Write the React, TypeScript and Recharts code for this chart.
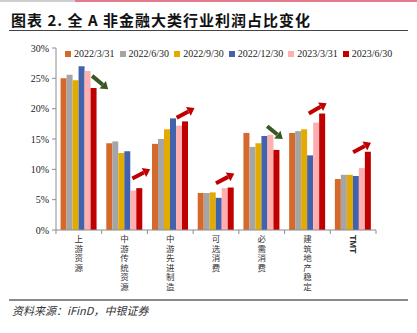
import * as React from "react"
import { BarChart, Bar, XAxis, YAxis, ReferenceLine } from "recharts"

const categories = ["上游资源", "中游传统资源", "中游先进制造", "可选消费", "必需消费", "建筑地产稳定", "TMT"]
const q20220331 = [25.0, 14.3, 14.2, 6.1, 16.0, 16.0, 8.4]
const q20220630 = [25.6, 14.6, 15.0, 6.1, 13.7, 16.3, 9.1]
const q20220930 = [24.7, 12.7, 16.6, 6.2, 14.3, 16.6, 9.1]
const q20221230 = [27.0, 13.0, 18.4, 5.3, 15.5, 12.3, 8.9]
const q20230331 = [26.2, 6.5, 17.2, 6.9, 15.7, 17.7, 10.2]
const q20230630 = [23.4, 6.9, 17.9, 7.0, 13.2, 19.2, 12.9]
const yTicks = [0, 5, 10, 15, 20, 25, 30]

const seriesNames = ["2022/3/31", "2022/6/30", "2022/9/30", "2022/12/30", "2023/3/31", "2023/6/30"]
const seriesValues = [q20220331, q20220630, q20220930, q20221230, q20230331, q20230630]
const seriesColors = ["#D5692B", "#A5A5A5", "#E3AA00", "#4263AC", "#FFAFAF", "#C00000"]

// arrow annotations, in (category index, percent) units
const arrowStart = [
  [0.79, 25.4], [1.67, 8.5], [2.64, 18.5], [3.5, 7.7], [4.62, 17.1], [5.53, 19.2], [6.5, 12.8],
]
const arrowEnd = [
  [1.14, 23.2], [2.06, 10.0], [3.03, 20.1], [3.9, 9.3], [4.96, 15.0], [5.92, 20.9], [6.89, 14.4],
]
const arrowDown = [true, false, false, false, true, false, false]

const data = categories.map((name, i) => {
  const row: Record<string, any> = { name, pos: i + 0.5 }
  seriesNames.forEach((s, j) => {
    row[s] = seriesValues[j][i]
  })
  return row
})

const PLOT_W = 320
const BAND = PLOT_W / categories.length

function CategoryTick(props: any) {
  const { x, y, payload, index } = props
  const label: string = payload.value
  const isLatin = label === "TMT"
  return (
    <g>
      <line x1={x - BAND / 2} x2={x - BAND / 2} y1={y - 3} y2={y + 1} stroke="#8c8c8c" />
      {index === categories.length - 1 && (
        <line x1={x + BAND / 2} x2={x + BAND / 2} y1={y - 3} y2={y + 1} stroke="#8c8c8c" />
      )}
      <text
        x={x}
        y={y + 2}
        style={{ writingMode: "vertical-rl" as any }}
        fontSize={isLatin ? 9 : 8.5}
        fontWeight={isLatin ? 700 : 400}
        letterSpacing={isLatin ? 0 : 1}
        fontFamily={isLatin ? "Liberation Sans, Arial" : "Noto Sans CJK SC"}
        fill="#333"
      >
        {label}
      </text>
    </g>
  )
}

function arrowShape(color: string) {
  return (props: any) => {
    const { x1, y1, x2, y2 } = props
    if (x1 == null) return <g />
    const dx = x2 - x1
    const dy = y2 - y1
    const len = Math.sqrt(dx * dx + dy * dy)
    const ux = dx / len
    const uy = dy / len
    const head = 7
    const bx = x2 - ux * head
    const by = y2 - uy * head
    const px = -uy
    const py = ux
    return (
      <g>
        <line x1={x1} y1={y1} x2={bx} y2={by} stroke={color} strokeWidth={4} />
        <polygon
          points={`${x2},${y2} ${bx + px * 5},${by + py * 5} ${bx - px * 5},${by - py * 5}`}
          fill={color}
        />
      </g>
    )
  }
}

export default function App() {
  return (
    <div style={{ position: "absolute", left: 0, top: 0, width: 417, height: 333, background: "#fff", overflow: "hidden" }}>
      <div style={{ position: "absolute", left: 0, top: 0, width: 75, height: 2, background: "#cfcfcf" }} />
      <div style={{ position: "absolute", left: 75, top: 0, width: 342, height: 2, background: "#E27C8C" }} />
      <div
        style={{
          position: "absolute",
          left: 11,
          top: 9,
          fontFamily: "Noto Sans CJK SC",
          fontWeight: 700,
          fontSize: 15,
          letterSpacing: 1,
          lineHeight: "22px",
          color: "#111",
          whiteSpace: "nowrap",
        }}
      >
        图表 2. 全 A 非金融大类行业利润占比变化
      </div>
      <div style={{ position: "absolute", left: 9, top: 30, width: 399, height: 1, background: "#444" }} />

      <div style={{ position: "absolute", left: 0, top: 0 }}>
        <BarChart
          width={417}
          height={333}
          data={data}
          margin={{ top: 48, right: 41, bottom: 33, left: 0 }}
          barCategoryGap="10%"
          barGap={0}
        >
          <XAxis
            dataKey="name"
            axisLine={{ stroke: "#8c8c8c" }}
            tickLine={false}
            tickSize={0}
            tickMargin={3}
            interval={0}
            height={70}
            tick={<CategoryTick />}
          />
          <XAxis
            xAxisId="n"
            dataKey="pos"
            type="number"
            domain={[0, categories.length]}
            allowDataOverflow
            padding={{ left: 0, right: 0 }}
            hide
          />
          <YAxis
            width={56}
            domain={[0, 30]}
            ticks={yTicks}
            interval={0}
            tickFormatter={(v) => `${v}%`}
            axisLine={{ stroke: "#8c8c8c" }}
            tickLine={{ stroke: "#8c8c8c" }}
            tickSize={4}
            tickMargin={3}
            tick={{ fontSize: 10, fill: "#222", fontFamily: "Liberation Serif" }}
          />
          {seriesNames.map((s, j) => (
            <Bar key={s} dataKey={s} fill={seriesColors[j]} isAnimationActive={false} />
          ))}
          {arrowStart.map((p, i) => (
            <ReferenceLine
              key={`arrow-${i}`}
              xAxisId="n"
              segment={[
                { x: p[0], y: p[1] },
                { x: arrowEnd[i][0], y: arrowEnd[i][1] },
              ]}
              ifOverflow="visible"
              shape={arrowShape(arrowDown[i] ? "#385723" : "#C00000")}
            />
          ))}
        </BarChart>
      </div>

      <div
        style={{
          position: "absolute",
          left: 65,
          top: 48,
          display: "flex",
          gap: 5,
          fontFamily: "Liberation Serif",
          fontSize: 10,
          color: "#222",
          lineHeight: "12px",
          whiteSpace: "nowrap",
        }}
      >
        {seriesNames.map((s, j) => (
          <div key={s} style={{ display: "flex", alignItems: "center" }}>
            <span style={{ display: "inline-block", width: 6, height: 6, background: seriesColors[j], marginRight: 3 }} />
            <span>{s}</span>
          </div>
        ))}
      </div>

      <div style={{ position: "absolute", left: 9, top: 299, width: 399, height: 2, background: "#8a8a8a" }} />
      <div
        style={{
          position: "absolute",
          left: 12,
          top: 302,
          fontFamily: "Noto Sans CJK SC",
          fontStyle: "italic",
          fontSize: 11,
          color: "#333",
          lineHeight: "16px",
          whiteSpace: "nowrap",
        }}
      >
        资料来源：iFinD，中银证券
      </div>
    </div>
  )
}
